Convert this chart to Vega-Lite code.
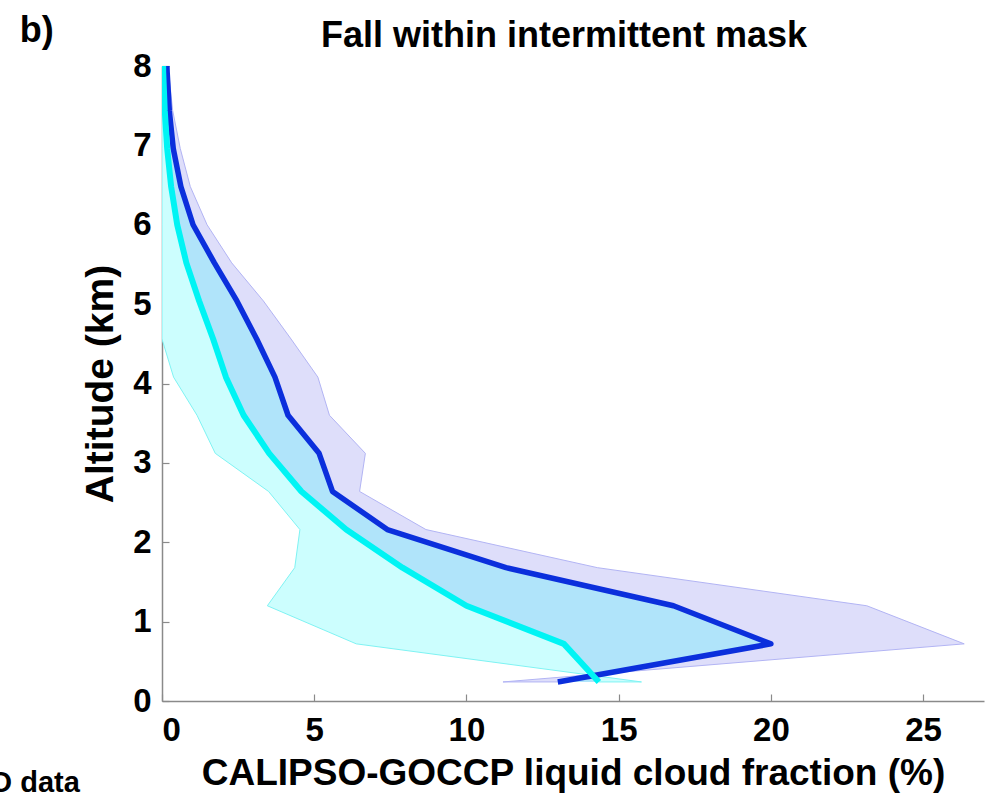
{
  "$schema": "https://vega.github.io/schema/vega-lite/v6.json",
  "autosize": "none",
  "width": 822,
  "height": 635,
  "padding": {"left": 162, "top": 66, "right": 10, "bottom": 98},
  "background": "white",
  "config": {
    "view": {"stroke": null},
    "font": "Liberation Sans",
    "axis": {
      "grid": false,
      "domainColor": "#8a8a8a",
      "domainWidth": 1.5,
      "tickColor": "#8a8a8a",
      "tickWidth": 1.2,
      "tickSize": -7,
      "labelFont": "Liberation Sans",
      "labelFontWeight": "bold",
      "labelFontSize": 33,
      "labelColor": "#000000",
      "titleFont": "Liberation Sans",
      "titleFontWeight": "bold",
      "titleColor": "#000000"
    }
  },
  "title": {
    "text": "Fall within intermittent mask",
    "font": "Liberation Sans",
    "fontWeight": "bold",
    "fontSize": 36,
    "color": "#000000",
    "anchor": "middle",
    "frame": "group",
    "offset": -42,
    "dx": -9
  },
  "datasets": {
    "profile": [
      {"alt": 0.24, "blue": 13.0, "cyan": 14.35, "cyanLow": 15.75, "blueHigh": 11.2},
      {"alt": 0.72, "blue": 20.0, "cyan": 13.2, "cyanLow": 6.38, "blueHigh": 26.35},
      {"alt": 1.20, "blue": 16.8, "cyan": 10.0, "cyanLow": 3.46, "blueHigh": 23.15},
      {"alt": 1.68, "blue": 11.3, "cyan": 7.9, "cyanLow": 4.36, "blueHigh": 14.3},
      {"alt": 2.16, "blue": 7.4, "cyan": 6.05, "cyanLow": 4.53, "blueHigh": 8.67},
      {"alt": 2.64, "blue": 5.6, "cyan": 4.58, "cyanLow": 3.5, "blueHigh": 6.49},
      {"alt": 3.12, "blue": 5.16, "cyan": 3.52, "cyanLow": 1.75, "blueHigh": 6.68},
      {"alt": 3.60, "blue": 4.14, "cyan": 2.68, "cyanLow": 1.15, "blueHigh": 5.5},
      {"alt": 4.08, "blue": 3.71, "cyan": 2.1, "cyanLow": 0.38, "blueHigh": 5.12},
      {"alt": 4.56, "blue": 3.11, "cyan": 1.68, "cyanLow": 0.0, "blueHigh": 4.24},
      {"alt": 5.04, "blue": 2.46, "cyan": 1.22, "cyanLow": 0.0, "blueHigh": 3.33},
      {"alt": 5.52, "blue": 1.72, "cyan": 0.8, "cyanLow": 0.0, "blueHigh": 2.29},
      {"alt": 6.00, "blue": 1.02, "cyan": 0.5, "cyanLow": 0.0, "blueHigh": 1.48},
      {"alt": 6.48, "blue": 0.62, "cyan": 0.3, "cyanLow": 0.0, "blueHigh": 0.93},
      {"alt": 6.96, "blue": 0.37, "cyan": 0.17, "cyanLow": 0.0, "blueHigh": 0.6},
      {"alt": 7.44, "blue": 0.24, "cyan": 0.09, "cyanLow": 0.0, "blueHigh": 0.35},
      {"alt": 7.92, "blue": 0.17, "cyan": 0.04, "cyanLow": 0.0, "blueHigh": 0.22},
      {"alt": 8.40, "blue": 0.12, "cyan": 0.02, "cyanLow": 0.0, "blueHigh": 0.16}
    ],
    "notes": [
      {"px": -4.67, "py": 8.44, "label": "b)", "side": "left"},
      {"px": -2.7, "py": -1.03, "label": "O data", "side": "right"}
    ]
  },
  "layer": [
    {
      "data": {"name": "profile"},
      "mark": {"type": "area", "orient": "horizontal", "clip": true, "fill": "#ccfefe", "stroke": "#7ff3f3", "strokeWidth": 1},
      "encoding": {
        "y": {"field": "alt", "type": "quantitative", "scale": {"domain": [0, 8], "nice": false},
              "axis": {"title": "Altitude (km)", "titleFontSize": 39, "format": "d", "values": [0,1,2,3,4,5,6,7,8], "labelPadding": 18, "titlePadding": 12}},
        "x": {"field": "cyanLow", "type": "quantitative", "scale": {"domain": [0, 27], "nice": false},
              "axis": {"title": "CALIPSO-GOCCP liquid cloud fraction (%)", "titleFontSize": 37, "format": "d", "values": [0,5,10,15,20,25], "labelPadding": 20, "titlePadding": 8}},
        "x2": {"field": "cyan"}
      }
    },
    {
      "data": {"name": "profile"},
      "mark": {"type": "area", "orient": "horizontal", "clip": true, "fill": "#b0e4fa"},
      "encoding": {
        "y": {"field": "alt", "type": "quantitative", "scale": {"domain": [0, 8], "nice": false}},
        "x": {"field": "cyan", "type": "quantitative", "scale": {"domain": [0, 27], "nice": false}},
        "x2": {"field": "blue"}
      }
    },
    {
      "data": {"name": "profile"},
      "mark": {"type": "area", "orient": "horizontal", "clip": true, "fill": "#dedefa", "stroke": "#b2b4f4", "strokeWidth": 1},
      "encoding": {
        "y": {"field": "alt", "type": "quantitative", "scale": {"domain": [0, 8], "nice": false}},
        "x": {"field": "blue", "type": "quantitative", "scale": {"domain": [0, 27], "nice": false}},
        "x2": {"field": "blueHigh"}
      }
    },
    {
      "data": {"name": "profile"},
      "mark": {"type": "line", "clip": true, "color": "#0b2fdc", "strokeWidth": 5.5, "strokeJoin": "round"},
      "encoding": {
        "y": {"field": "alt", "type": "quantitative", "scale": {"domain": [0, 8], "nice": false}},
        "x": {"field": "blue", "type": "quantitative", "scale": {"domain": [0, 27], "nice": false}},
        "order": {"field": "alt", "type": "quantitative"}
      }
    },
    {
      "data": {"name": "profile"},
      "mark": {"type": "line", "clip": true, "color": "#00f4f4", "strokeWidth": 6, "strokeJoin": "round"},
      "encoding": {
        "y": {"field": "alt", "type": "quantitative", "scale": {"domain": [0, 8], "nice": false}},
        "x": {"field": "cyan", "type": "quantitative", "scale": {"domain": [0, 27], "nice": false}},
        "order": {"field": "alt", "type": "quantitative"}
      }
    },
    {
      "data": {"name": "notes"},
      "transform": [{"filter": "datum.side === 'left'"}],
      "mark": {"type": "text", "align": "left", "baseline": "middle", "font": "Liberation Sans", "fontWeight": "bold", "fontSize": 36, "color": "#000000"},
      "encoding": {
        "y": {"field": "py", "type": "quantitative", "scale": {"domain": [0, 8], "nice": false}},
        "x": {"field": "px", "type": "quantitative", "scale": {"domain": [0, 27], "nice": false}},
        "text": {"field": "label"}
      }
    },
    {
      "data": {"name": "notes"},
      "transform": [{"filter": "datum.side === 'right'"}],
      "mark": {"type": "text", "align": "right", "baseline": "middle", "font": "Liberation Sans", "fontWeight": "bold", "fontSize": 29, "color": "#000000"},
      "encoding": {
        "y": {"field": "py", "type": "quantitative", "scale": {"domain": [0, 8], "nice": false}},
        "x": {"field": "px", "type": "quantitative", "scale": {"domain": [0, 27], "nice": false}},
        "text": {"field": "label"}
      }
    }
  ]
}
